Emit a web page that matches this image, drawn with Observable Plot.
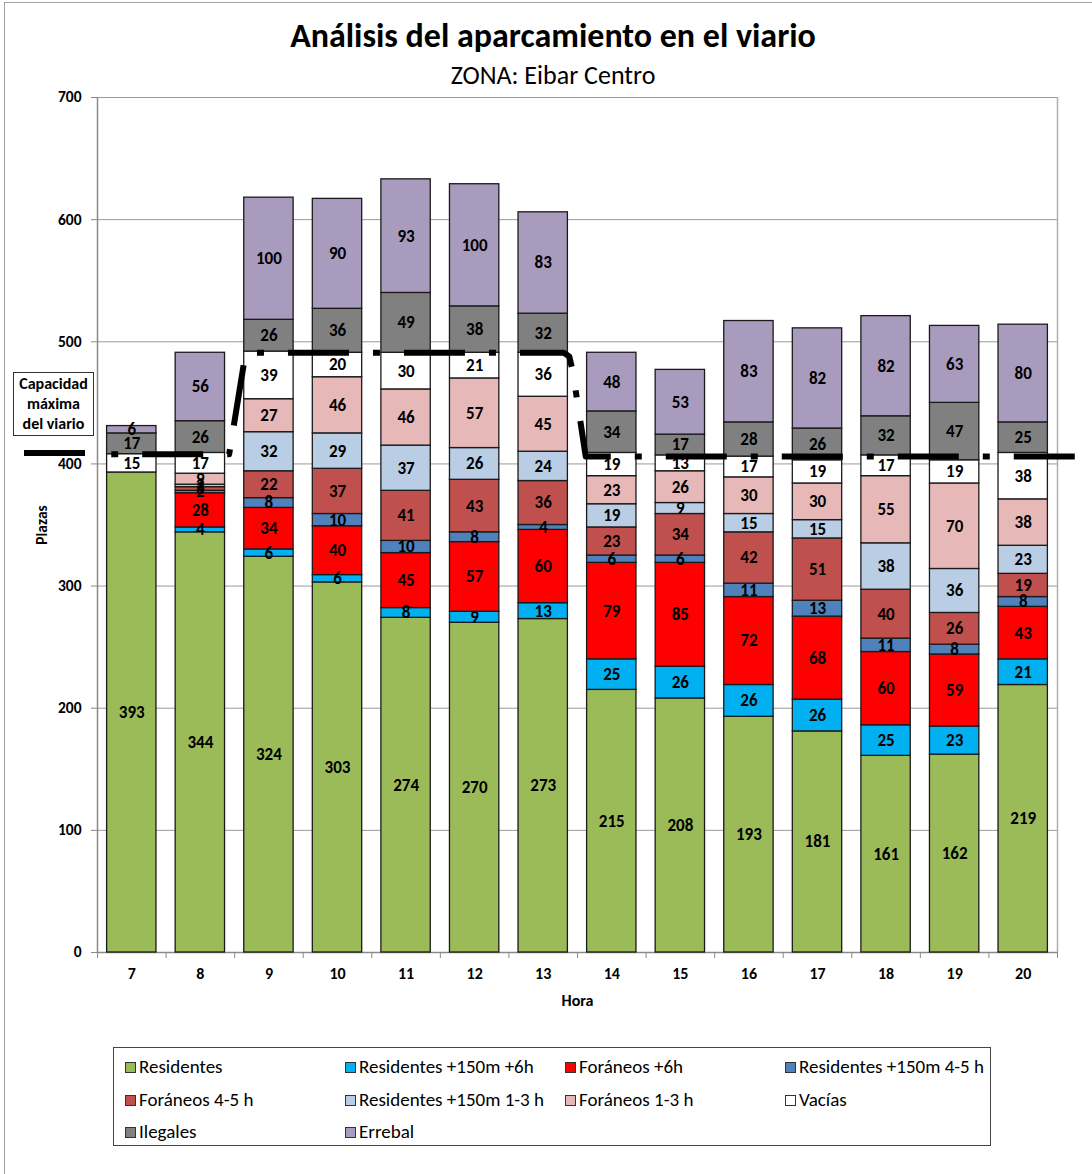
<!DOCTYPE html>
<html>
<head>
<meta charset="utf-8">
<script src="https://cdn.jsdelivr.net/npm/d3@7"></script>
<script src="https://cdn.jsdelivr.net/npm/@observablehq/plot@0.6"></script>
<style>
  html, body { margin: 0; padding: 0; background: white; overflow: hidden; }
  body { font-family: Carlito, Calibri, "Liberation Sans Narrow", "Open Sans", sans-serif; }
  #wrap { position: relative; width: 1092px; height: 1174px; overflow: hidden; background: white; }
  #frame { position: absolute; left: 4px; top: 2px; width: 1200px; height: 1300px; border: 1.5px solid #a0a0a0; box-sizing: border-box; pointer-events: none; }
  #title { position: absolute; left: 0; width: 1106px; top: 15px; text-align: center; font-weight: bold; font-size: 34px; line-height: 42px; color: #000; }
  #subtitle { position: absolute; left: 0; width: 1106px; top: 60px; text-align: center; font-size: 26px; line-height: 30px; color: #000; }
  #chart { position: absolute; left: 0; top: 90px; }
  #capbox { position: absolute; left: 13px; top: 372px; width: 81px; height: 64px; border: 1px solid #333; box-sizing: border-box; background: white;
            font-weight: bold; font-size: 16px; line-height: 20px; text-align: center; padding-top: 1px; }
  #capline { position: absolute; left: 24px; top: 450px; width: 61px; height: 6px; background: #000; }
  #legend { position: absolute; left: 113px; top: 1047px; width: 878px; height: 99px; border: 1.5px solid #444; box-sizing: border-box; background: white; }
  .item { position: absolute; display: flex; align-items: center; font-size: 19px; line-height: 22px; white-space: nowrap; }
  .sw { width: 9px; height: 9px; border: 1.5px solid #333; margin-right: 3px; }
</style>
</head>
<body>
<div id="wrap">
  <div id="title">Análisis del aparcamiento en el viario</div>
  <div id="subtitle">ZONA: Eibar Centro</div>
  <div id="chart"></div>
  <div id="capbox">Capacidad<br>máxima<br>del viario</div>
  <div id="capline"></div>
  <div id="legend"></div>
  <div id="frame"></div>
</div>
<script>
// ---- data ----
const hours = [7, 8, 9, 10, 11, 12, 13, 14, 15, 16, 17, 18, 19, 20];
const seriesNames = ["Residentes", "Residentes +150m +6h", "Foráneos +6h", "Residentes +150m 4-5 h",
  "Foráneos 4-5 h", "Residentes +150m 1-3 h", "Foráneos 1-3 h", "Vacías", "Ilegales", "Errebal"];
const seriesColors = ["#9BBB59", "#00B0F0", "#FF0000", "#4F81BD", "#C0504D", "#B9CDE5", "#E6B9B8", "#FFFFFF", "#808080", "#A99BBD"];
const residentes = [393, 344, 324, 303, 274, 270, 273, 215, 208, 193, 181, 161, 162, 219];
const residentes150m6h = [0, 4, 6, 6, 8, 9, 13, 25, 26, 26, 26, 25, 23, 21];
const foraneos6h = [0, 28, 34, 40, 45, 57, 60, 79, 85, 72, 68, 60, 59, 43];
const residentes150m45h = [0, 2, 8, 10, 10, 8, 4, 6, 6, 11, 13, 11, 8, 8];
const foraneos45h = [0, 3, 22, 37, 41, 43, 36, 23, 34, 42, 51, 40, 26, 19];
const residentes150m13h = [0, 2, 32, 29, 37, 26, 24, 19, 9, 15, 15, 38, 36, 23];
const foraneos13h = [0, 9, 27, 46, 46, 57, 45, 23, 26, 30, 30, 55, 70, 38];
const vacias = [15, 17, 39, 20, 30, 21, 36, 19, 13, 17, 19, 17, 19, 38];
const ilegales = [17, 26, 26, 36, 49, 38, 32, 34, 17, 28, 26, 32, 47, 25];
const errebal = [6, 56, 100, 90, 93, 100, 83, 48, 53, 83, 82, 82, 63, 80];
// capacity line (capacidad máxima del viario), breakpoints in hour units
const capacityHour = [6.7, 8.42, 8.66, 13.3, 13.38, 13.43, 13.62, 20.85];
const capacityValue = [408, 408, 491, 491, 488, 476, 406, 406];
const yTicks = [0, 100, 200, 300, 400, 500, 600, 700];

const seriesValues = [residentes, residentes150m6h, foraneos6h, residentes150m45h, foraneos45h,
  residentes150m13h, foraneos13h, vacias, ilegales, errebal];

// build stacked table
const rows = [];
hours.forEach((h, i) => {
  let base = 0;
  seriesNames.forEach((s, k) => {
    const v = seriesValues[k][i];
    rows.push({hour: h, series: s, value: v, y1: base, y2: base + v});
    base += v;
  });
});
const capacity = capacityHour.map((h, i) => ({hour: h, value: capacityValue[i]}));
const boundaries = d3.range(6.5, 20.6, 1);
const halfWidth = 0.36;

const FONT = 'Carlito, Calibri, "Liberation Sans Narrow", "Open Sans", sans-serif';

const chart = Plot.plot({
  width: 1092,
  height: 940,
  marginLeft: 97,
  marginRight: 35,
  marginTop: 7,
  marginBottom: 78,
  style: {fontFamily: FONT, background: "transparent", color: "black", overflow: "visible"},
  x: {type: "linear", domain: [6.5, 20.5]},
  y: {domain: [0, 700]},
  color: {domain: seriesNames, range: seriesColors},
  marks: [
    Plot.gridY(yTicks, {stroke: "#9a9a9a", strokeOpacity: 1, strokeWidth: 1}),
    Plot.ruleX([20.5], {stroke: "#b0b0b0", strokeWidth: 1.5}),
    Plot.ruleX([6.5], {stroke: "#8a8a8a", strokeWidth: 1.5}),
    Plot.ruleY([0], {stroke: "#8a8a8a", strokeWidth: 1.5}),
    Plot.axisY({ticks: yTicks, tickSize: 6, tickPadding: 10, stroke: "#8a8a8a", fill: "black",
      fontWeight: "bold", fontSize: 15.5, label: "Plazas", labelAnchor: "center", labelOffset: 62, labelArrow: "none"}),
    Plot.axisX({ticks: boundaries, tickSize: 6, tickFormat: () => "", stroke: "#8a8a8a", label: null}),
    Plot.axisX({ticks: hours, tickSize: 0, tickPadding: 15, tickFormat: d => String(d), fill: "black",
      fontWeight: "bold", fontSize: 16, label: "Hora", labelAnchor: "center", labelOffset: 53, labelArrow: "none"}),
    Plot.rect(rows.filter(d => d.value > 0), {
      x1: d => d.hour - halfWidth, x2: d => d.hour + halfWidth, y1: "y1", y2: "y2",
      fill: "series", stroke: "#1a1a1a", strokeWidth: 1.3
    }),
    Plot.text(rows.filter(d => d.value > 0), {
      x: "hour", y: d => (d.y1 + d.y2) / 2, text: d => String(d.value),
      fill: "black", fontWeight: "bold", fontSize: 17
    }),
    Plot.line(capacity, {x: "hour", y: "value", stroke: "black", strokeWidth: 6,
      strokeDasharray: "7,24,61,24", strokeLinecap: "butt", strokeLinejoin: "round"})
  ]
});
document.getElementById("chart").appendChild(chart);

// legend
const legend = document.getElementById("legend");
const colX = [11, 231, 451, 671];
const rowY = [8, 41, 73];
seriesNames.forEach((s, k) => {
  const it = document.createElement("div");
  it.className = "item";
  it.style.left = colX[k % 4] + "px";
  it.style.top = rowY[Math.floor(k / 4)] + "px";
  const sw = document.createElement("span");
  sw.className = "sw";
  sw.style.background = seriesColors[k];
  const tx = document.createElement("span");
  tx.textContent = s;
  it.appendChild(sw);
  it.appendChild(tx);
  legend.appendChild(it);
});
</script>
</body>
</html>
